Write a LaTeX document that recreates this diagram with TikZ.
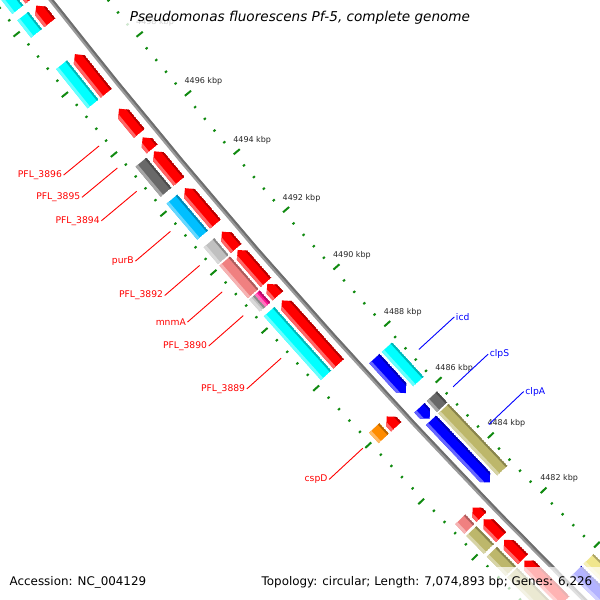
\documentclass[tikz,border=0pt]{standalone}
\usepackage{fontspec}
\setmainfont{DejaVu Sans}
\newfontfamily\titlefont{DejaVu Sans}
\definecolor{cogcyan}{HTML}{00FFFF}
\definecolor{cogred}{HTML}{FF0000}
\definecolor{cogblue}{HTML}{0000FF}
\definecolor{cogdim}{HTML}{696969}
\definecolor{cogsky}{HTML}{00BFFF}
\definecolor{coglgray}{HTML}{C0C0C0}
\definecolor{cogcoral}{HTML}{F08080}
\definecolor{cogpink}{HTML}{FF1493}
\definecolor{cogorange}{HTML}{FF8C00}
\definecolor{cogdkhaki}{HTML}{BDB76B}
\definecolor{cogkhaki}{HTML}{F0E68C}
\definecolor{tickgreen}{HTML}{108A10}
\definecolor{bbgrey}{HTML}{9A9A9A}
\definecolor{bbdark}{HTML}{6E6E6E}
% #1 type (0 box, 1 forward arrow, 2 reverse arrow), #2 s1, #3 s2, #4 inner radius, #5 outer radius, #6 colour
\newcommand{\feat}[6]{%
  \pgfmathsetmacro\FeA{218.17+(#2)/115.58}%
  \pgfmathsetmacro\FeB{218.17+(#3)/115.58}%
  \pgfmathsetmacro\FeH{min(7,0.6*((#3)-(#2)))/115.58}%
  \pgfmathsetmacro\FeM{((#4)+(#5))/2}%
  \pgfmathsetmacro\FeI{(#4)+2}%
  \pgfmathsetmacro\FeO{(#5)-3}%
  \ifcase#1\relax
    \def\FePath{(\FeA:#4) -- (\FeB:#4) -- (\FeB:#5) -- (\FeA:#5) -- cycle}%
  \or
    \pgfmathsetmacro\FeC{\FeA+\FeH}%
    \def\FePath{(\FeA:\FeM) -- (\FeC:#4) -- (\FeB:#4) -- (\FeB:#5) -- (\FeC:#5) -- cycle}%
  \or
    \pgfmathsetmacro\FeC{\FeB-\FeH}%
    \def\FePath{(\FeA:#4) -- (\FeC:#4) -- (\FeB:\FeM) -- (\FeC:#5) -- (\FeA:#5) -- cycle}%
  \fi
  \begin{scope}
    \clip \FePath;
    \fill[#6] \FePath;
    \fill[#6!72!black] (\FeA:#4) -- (\FeB:#4) -- (\FeB:\FeI) -- (\FeA:\FeI) -- cycle;
    \fill[#6!60!white] (\FeA:\FeO) -- (\FeB:\FeO) -- (\FeB:#5) -- (\FeA:#5) -- cycle;
  \end{scope}}
\begin{document}
\begin{tikzpicture}[x=1pt,y=1pt,
  rlbl/.style={text=cogred, font=\fontsize{9.2}{11}\selectfont, inner sep=1.5pt},
  blbl/.style={text=cogblue, font=\fontsize{9.2}{11}\selectfont, inner sep=1.5pt},
  rline/.style={draw=cogred, line width=0.9pt},
  bline/.style={draw=cogblue, line width=0.9pt},
  majtick/.style={draw=tickgreen, line width=2pt},
  mintick/.style={draw=tickgreen, line width=2pt},
  ticklbl/.style={font=\fontsize{8}{10}\selectfont, text=black!85, inner sep=0pt},
  titlebox/.style={font=\titlefont\itshape\fontsize{13.6}{16}\selectfont, fill=white, fill opacity=0.8, text opacity=1, inner xsep=6pt, inner ysep=4pt},
  legendtxt/.style={font=\fontsize{11.9}{14}\selectfont, inner sep=1.5pt}]
\useasboundingbox (0,0) rectangle (600,600);
\clip (0,0) rectangle (600,600);
\fill[white] (0,0) rectangle (600,600);
\begin{scope}[shift={(5257,4692)}]
  % backbone
  \draw[bbgrey, line width=4.2pt] plot[domain=217.4:225.7, samples=50] (\x:6622);
  \draw[bbdark, line width=2pt] plot[domain=217.4:225.7, samples=50] (\x:6620.8);
  % rulers
  \foreach \k in {-9,...,47}{%
    \pgfmathsetmacro\Ta{218.88+0.1328*\k}%
    \pgfmathtruncatemacro\Km{mod(\k+100,5)}%
    \ifnum\Km=0
      \draw[majtick] (\Ta:6570) -- (\Ta:6578);
      \draw[majtick] (\Ta:6666) -- (\Ta:6674);
    \else
      \draw[mintick] (\Ta:6576) -- (\Ta:6578.5);
      \draw[mintick] (\Ta:6666) -- (\Ta:6668.5);
    \fi}
  \foreach \k/\lab in {0/4498,5/4496,10/4494,15/4492,20/4490,25/4488,30/4486,35/4484,40/4482}{%
    \pgfmathsetmacro\Ta{218.88+0.1328*\k}%
    \path (\Ta:6576) ++(17,13) node[ticklbl] (tk\lab) {\lab\ kbp};}
  % forward CDS (lane +1)
  \feat{1}{-45}{-13}{6630}{6644}{cogred}
  \feat{1}{-5}{17}{6630}{6644}{cogred}
  \feat{1}{57}{107}{6630}{6644}{cogred}
  \feat{1}{127}{159}{6630}{6644}{cogred}
  \feat{1}{164}{179}{6630}{6644}{cogred}
  \feat{1}{182}{221}{6630}{6644}{cogred}
  \feat{1}{230}{277}{6630}{6644}{cogred}
  \feat{1}{287}{309}{6630}{6644}{cogred}
  \feat{1}{311}{354}{6630}{6644}{cogred}
  \feat{1}{356}{372}{6630}{6644}{cogred}
  \feat{1}{378}{463}{6630}{6644}{cogred}
  \feat{1}{534}{548}{6630}{6644}{cogred}
  \feat{1}{659}{672}{6630}{6644}{cogred}
  \feat{1}{675}{700}{6630}{6644}{cogred}
  \feat{1}{704}{731}{6630}{6644}{cogred}
  \feat{1}{733}{790}{6630}{6644}{cogred}
  % forward COG (lane +2)
  \feat{0}{-45}{-13}{6647}{6661}{cogcyan}
  \feat{0}{-5}{17}{6647}{6661}{cogcyan}
  \feat{0}{57}{107}{6647}{6661}{cogcyan}
  \feat{0}{182}{221}{6647}{6661}{cogdim}
  \feat{0}{230}{277}{6647}{6661}{cogsky}
  \feat{0}{287}{309}{6647}{6661}{coglgray}
  \feat{0}{311}{354}{6647}{6661}{cogcoral}
  \feat{0}{356}{372}{6647}{6654}{cogpink}
  \feat{0}{356}{372}{6654}{6661}{coglgray}
  \feat{0}{378}{463}{6647}{6661}{cogcyan}
  \feat{0}{534}{548}{6647}{6661}{cogorange}
  \feat{0}{659}{672}{6647}{6661}{cogcoral}
  \feat{0}{675}{700}{6647}{6661}{cogdkhaki}
  \feat{0}{704}{731}{6647}{6661}{cogdkhaki}
  \feat{0}{733}{790}{6647}{6661}{cogdkhaki}
  % reverse CDS (lane -1)
  \feat{2}{483}{530}{6600}{6614}{cogblue}
  \feat{2}{550}{565}{6600}{6614}{cogblue}
  \feat{2}{567}{653}{6600}{6614}{cogblue}
  \feat{2}{777}{900}{6600}{6614}{cogblue}
  % reverse COG (lane -2)
  \feat{0}{483}{530}{6583}{6597}{cogcyan}
  \feat{0}{550}{565}{6583}{6597}{cogdim}
  \feat{0}{567}{653}{6583}{6597}{cogdkhaki}
  \feat{0}{777}{900}{6583}{6597}{cogkhaki}
  % leader end points
  \coordinate (e3896) at ({218.17+143/115.58}:6676);
  \coordinate (s3896) at ({218.17+143/115.58}:6722);
  \coordinate (e3895) at ({218.17+171.5/115.58}:6676);
  \coordinate (s3895) at ({218.17+171.5/115.58}:6722);
  \coordinate (e3894) at ({218.17+201.5/115.58}:6676);
  \coordinate (s3894) at ({218.17+201.5/115.58}:6722);
  \coordinate (epurB) at ({218.17+253.5/115.58}:6676);
  \coordinate (spurB) at ({218.17+253.5/115.58}:6722);
  \coordinate (e3892) at ({218.17+298/115.58}:6676);
  \coordinate (s3892) at ({218.17+298/115.58}:6722);
  \coordinate (emnmA) at ({218.17+332.5/115.58}:6676);
  \coordinate (smnmA) at ({218.17+332.5/115.58}:6722);
  \coordinate (e3890) at ({218.17+364/115.58}:6676);
  \coordinate (s3890) at ({218.17+364/115.58}:6722);
  \coordinate (e3889) at ({218.17+420.5/115.58}:6676);
  \coordinate (s3889) at ({218.17+420.5/115.58}:6722);
  \coordinate (ecspD) at ({218.17+541/115.58}:6676);
  \coordinate (scspD) at ({218.17+541/115.58}:6722);
  \coordinate (eicd) at ({218.17+506.5/115.58}:6568);
  \coordinate (sicd) at ({218.17+506.5/115.58}:6520);
  \coordinate (eclpS) at ({218.17+557.5/115.58}:6568);
  \coordinate (sclpS) at ({218.17+557.5/115.58}:6520);
  \coordinate (eclpA) at ({218.17+610/115.58}:6568);
  \coordinate (sclpA) at ({218.17+610/115.58}:6520);
\end{scope}
% gene labels
\node[rlbl, anchor=east] (l3896) at (s3896) {PFL\_3896};
\node[rlbl, anchor=east] (l3895) at (s3895) {PFL\_3895};
\node[rlbl, anchor=east] (l3894) at (s3894) {PFL\_3894};
\node[rlbl, anchor=east] (lpurB) at (spurB) {purB};
\node[rlbl, anchor=east] (l3892) at (s3892) {PFL\_3892};
\node[rlbl, anchor=east] (lmnmA) at (smnmA) {mnmA};
\node[rlbl, anchor=east] (l3890) at (s3890) {PFL\_3890};
\node[rlbl, anchor=east] (l3889) at (s3889) {PFL\_3889};
\node[rlbl, anchor=east] (lcspD) at (scspD) {cspD};
\node[blbl, anchor=west] (licd) at (sicd) {icd};
\node[blbl, anchor=west] (lclpS) at (sclpS) {clpS};
\node[blbl, anchor=west] (lclpA) at (sclpA) {clpA};
\draw[rline] (l3896.east) -- (e3896);
\draw[rline] (l3895.east) -- (e3895);
\draw[rline] (l3894.east) -- (e3894);
\draw[rline] (lpurB.east) -- (epurB);
\draw[rline] (l3892.east) -- (e3892);
\draw[rline] (lmnmA.east) -- (emnmA);
\draw[rline] (l3890.east) -- (e3890);
\draw[rline] (l3889.east) -- (e3889);
\draw[rline] (lcspD.east) -- (ecspD);
\draw[bline] (licd.west) -- (eicd);
\draw[bline] (lclpS.west) -- (eclpS);
\draw[bline] (lclpA.west) -- (eclpA);
% title and legend
\node[titlebox] (title) at (300,582) {Pseudomonas fluorescens Pf-5, complete genome};
\fill[white, opacity=0.7] (254,0) rectangle (600,33);
\node[legendtxt, anchor=west] (acc) at (8,18) {Accession: NC\_004129};
\node[legendtxt, anchor=east] (topo) at (594,18) {Topology: circular; Length: 7,074,893 bp; Genes: 6,226};
\end{tikzpicture}
\end{document}
